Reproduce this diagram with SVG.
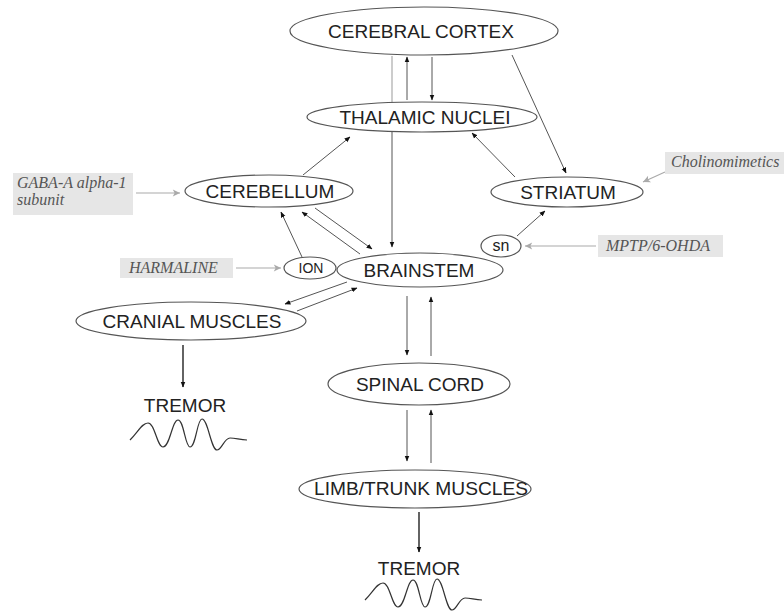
<svg xmlns="http://www.w3.org/2000/svg" width="784" height="616" viewBox="0 0 784 616">
<style>
.node ellipse{fill:#fff;stroke:#555;stroke-width:1.2}
.lbl{font-family:"Liberation Sans",Arial,sans-serif;font-size:19px;fill:#222;text-anchor:middle}
.drug rect{fill:#e6e6e6;stroke:none}
.drug text{font-family:"Liberation Serif","Times New Roman",serif;font-style:italic;font-size:16px;fill:#555}
.c{stroke:#555;stroke-width:1;fill:none;marker-end:url(#ah)}
.cn{stroke:#999;stroke-width:1;fill:none}
.cg{stroke:#aaa;stroke-width:1.2;fill:none;marker-end:url(#ag)}
.ct{stroke:#222;stroke-width:1.4;fill:none;marker-end:url(#ah)}
.wave{stroke:#333;stroke-width:1.2;fill:none}
</style>
<defs>
<marker id="ah" viewBox="0 0 10 10" refX="9" refY="5" markerWidth="6" markerHeight="6" markerUnits="userSpaceOnUse" orient="auto"><path d="M0,1 L10,5 L0,9 Z" fill="#111"/></marker>
<marker id="ag" viewBox="0 0 10 10" refX="9" refY="5" markerWidth="9" markerHeight="9" markerUnits="userSpaceOnUse" orient="auto"><path d="M1,1 L9,5 L1,9 L3,5 Z" fill="#aaa"/></marker>
<path id="wv" d="M130,440 C138,432 142,423 148,423 C155,423 157,447 163,447 C170,447 172,420 178,420 C184,420 185,447 190,447 C196,447 197,419 202,419 C208,419 211,450 217,450 C222,450 224,438 230,438 C236,438 240,440 247,440"/>
</defs>
<g id="connectors">
<line class="cn" x1="392" y1="56" x2="392" y2="103"/>
<line class="c" x1="407" y1="100" x2="407" y2="57"/>
<line class="c" x1="432" y1="57" x2="432" y2="100"/>
<line class="c" x1="512" y1="55" x2="566" y2="173"/>
<line class="c" x1="515" y1="177" x2="472" y2="133"/>
<line class="c" x1="392" y1="132" x2="392" y2="247"/>
<line class="c" x1="303" y1="175" x2="350" y2="137"/>
<line class="c" x1="315" y1="208" x2="372" y2="249"/>
<line class="c" x1="360" y1="254" x2="302" y2="212"/>
<line class="c" x1="302" y1="257" x2="281" y2="212"/>
<line class="c" x1="517" y1="236" x2="545" y2="211"/>
<line class="c" x1="347" y1="282" x2="285" y2="304"/>
<line class="c" x1="297" y1="311" x2="357" y2="288"/>
<line class="c" x1="407" y1="296" x2="407" y2="355"/>
<line class="c" x1="431" y1="356" x2="431" y2="297"/>
<line class="c" x1="407" y1="410" x2="407" y2="461"/>
<line class="c" x1="431" y1="463" x2="431" y2="410"/>
<line class="ct" x1="183" y1="345" x2="183" y2="387"/>
<line class="ct" x1="419" y1="512" x2="419" y2="552"/>
<line class="cg" x1="136" y1="193" x2="180" y2="193"/>
<line class="cg" x1="665" y1="172" x2="643" y2="182"/>
<line class="cg" x1="236" y1="268" x2="281" y2="268"/>
<line class="cg" x1="596" y1="246" x2="525" y2="246"/>
</g>
<g id="cortex" class="node"><ellipse cx="424" cy="31" rx="134" ry="24"/><text class="lbl" x="421" y="38">CEREBRAL CORTEX</text></g>
<g id="thalamus" class="node"><ellipse cx="422" cy="117" rx="115" ry="15"/><text class="lbl" x="425" y="124">THALAMIC NUCLEI</text></g>
<g id="cerebellum" class="node"><ellipse cx="269" cy="191" rx="84" ry="16"/><text class="lbl" x="270" y="198">CEREBELLUM</text></g>
<g id="striatum" class="node"><ellipse cx="567" cy="192" rx="76" ry="15"/><text class="lbl" x="568" y="199">STRIATUM</text></g>
<g id="ion" class="node"><ellipse cx="310" cy="268" rx="26" ry="11"/><text class="lbl" x="311" y="273" style="font-size:14px">ION</text></g>
<g id="sn" class="node"><ellipse cx="501" cy="246" rx="20" ry="11"/><text class="lbl" x="501" y="251" style="font-size:16px">sn</text></g>
<g id="brainstem" class="node"><ellipse cx="420" cy="270" rx="83" ry="17"/><text class="lbl" x="419" y="277">BRAINSTEM</text></g>
<g id="cranial" class="node"><ellipse cx="191" cy="321" rx="115" ry="19"/><text class="lbl" x="192" y="328">CRANIAL MUSCLES</text></g>
<g id="spinal" class="node"><ellipse cx="419" cy="384" rx="91" ry="21"/><text class="lbl" x="420" y="391">SPINAL CORD</text></g>
<g id="limb" class="node"><ellipse cx="415" cy="489" rx="116" ry="19"/><text class="lbl" x="421" y="495" textLength="214" lengthAdjust="spacingAndGlyphs">LIMB/TRUNK MUSCLES</text></g>
<g id="tremor1"><text class="lbl" x="185" y="412">TREMOR</text><use href="#wv" class="wave"/></g>
<g id="tremor2"><text class="lbl" x="419" y="575">TREMOR</text><use href="#wv" class="wave" transform="translate(235,160)"/></g>
<g id="gaba" class="drug"><rect x="13" y="173" width="120" height="42"/><text x="17" y="188">GABA-A alpha-1</text><text x="17" y="205">subunit</text></g>
<g id="cholino" class="drug"><rect x="665" y="152" width="119" height="22"/><text x="671" y="167">Cholinomimetics</text></g>
<g id="harmaline" class="drug"><rect x="120" y="258" width="113" height="20"/><text x="129" y="273">HARMALINE</text></g>
<g id="mptp" class="drug"><rect x="598" y="235" width="125" height="22"/><text x="606" y="251">MPTP/6-OHDA</text></g>
</svg>
